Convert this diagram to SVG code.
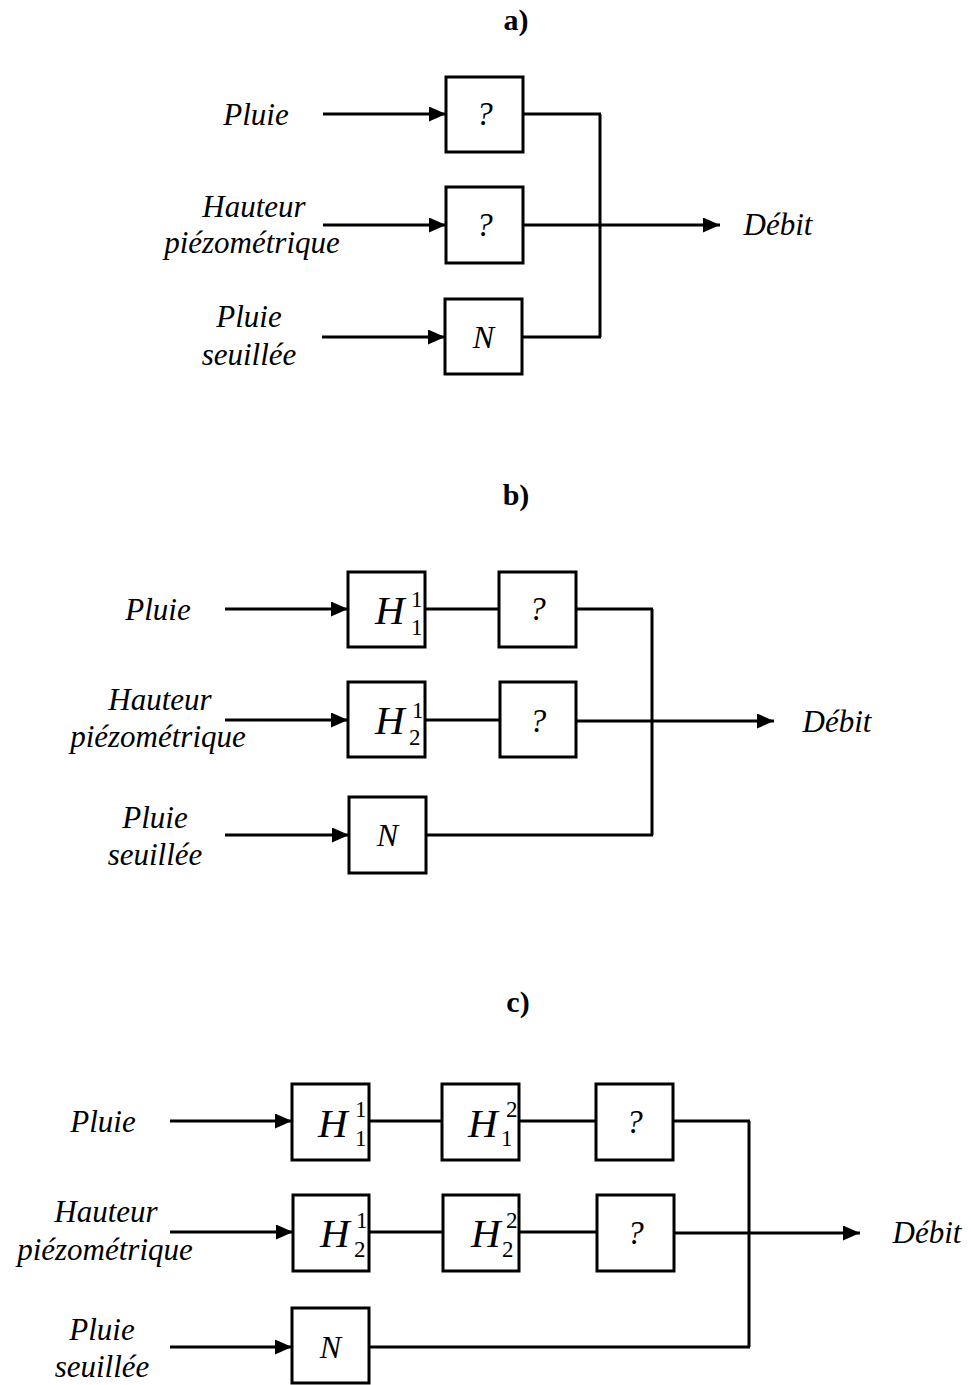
<svg xmlns="http://www.w3.org/2000/svg" width="971" height="1385" viewBox="0 0 971 1385">
<style>
text{font-family:"Liberation Serif","Times New Roman",serif;fill:#000}
.lbl{font-size:31px;font-style:italic;text-anchor:middle}
.ttl{font-size:30px;font-weight:bold;text-anchor:middle}
.q{font-size:33px;font-style:italic;text-anchor:middle}
.n{font-size:32px;font-style:italic;text-anchor:middle}
.h{font-size:41px;font-style:italic}
.d{font-size:23px}
rect{fill:#fff;stroke:#000;stroke-width:3}
.c line{stroke:#000;stroke-width:3;fill:none}
.c .ar{marker-end:url(#ah)}
</style>
<defs>
<marker id="ah" markerUnits="userSpaceOnUse" markerWidth="17" markerHeight="15" refX="17" refY="7.5" orient="auto">
<path d="M0,0 L17,7.5 L0,15 z" fill="#000"/>
</marker>
</defs>
<rect x="0" y="0" width="971" height="1385" style="fill:#fff;stroke:none"/>

<!-- Titles -->
<text id="title-a" class="ttl" x="516" y="30">a)</text>
<text id="title-b" class="ttl" x="516" y="505">b)</text>
<text id="title-c" class="ttl" x="518" y="1012">c)</text>

<!-- Connectors -->
<g id="connectors" class="c">
<!-- a -->
<line class="ar" x1="323" y1="114" x2="446" y2="114"/>
<line class="ar" x1="323" y1="225" x2="446" y2="225"/>
<line class="ar" x1="322" y1="337" x2="445" y2="337"/>
<line x1="523" y1="114" x2="601" y2="114"/>
<line x1="600" y1="114" x2="600" y2="337"/>
<line x1="522" y1="337" x2="601" y2="337"/>
<line class="ar" x1="523" y1="225" x2="720" y2="225"/>
<!-- b -->
<line class="ar" x1="225" y1="609" x2="348" y2="609"/>
<line class="ar" x1="225" y1="720" x2="348" y2="720"/>
<line class="ar" x1="225" y1="835" x2="349" y2="835"/>
<line x1="425" y1="609" x2="499" y2="609"/>
<line x1="576" y1="609" x2="653" y2="609"/>
<line x1="425" y1="720" x2="500" y2="720"/>
<line class="ar" x1="577" y1="721" x2="774" y2="721"/>
<line x1="426" y1="835" x2="653" y2="835"/>
<line x1="652" y1="609" x2="652" y2="835"/>
<!-- c -->
<line class="ar" x1="170" y1="1121" x2="292" y2="1121"/>
<line class="ar" x1="170" y1="1232" x2="293" y2="1232"/>
<line class="ar" x1="170" y1="1347" x2="292" y2="1347"/>
<line x1="369" y1="1121" x2="442" y2="1121"/>
<line x1="519" y1="1121" x2="596" y2="1121"/>
<line x1="673" y1="1121" x2="750" y2="1121"/>
<line x1="370" y1="1232" x2="443" y2="1232"/>
<line x1="520" y1="1232" x2="597" y2="1232"/>
<line class="ar" x1="674" y1="1233" x2="860" y2="1233"/>
<line x1="369" y1="1347" x2="750" y2="1347"/>
<line x1="749" y1="1121" x2="749" y2="1347"/>
</g>

<!-- Section a nodes -->
<g id="a-in-pluie"><text class="lbl" x="256" y="125">Pluie</text></g>
<g id="a-in-hauteur"><text class="lbl" x="254" y="217">Hauteur</text><text class="lbl" x="252" y="253">piézométrique</text></g>
<g id="a-in-seuil"><text class="lbl" x="249" y="327">Pluie</text><text class="lbl" x="249" y="365">seuillée</text></g>
<g id="a-box1"><rect x="446" y="77" width="77" height="75"/><text class="q" x="484.5" y="125">?</text></g>
<g id="a-box2"><rect x="446" y="187" width="77" height="76"/><text class="q" x="484.5" y="236">?</text></g>
<g id="a-box3"><rect x="445" y="299" width="77" height="75"/><text class="n" x="483.5" y="348">N</text></g>
<g id="a-out"><text class="lbl" x="778" y="235">Débit</text></g>

<!-- Section b nodes -->
<g id="b-in-pluie"><text class="lbl" x="158" y="620">Pluie</text></g>
<g id="b-in-hauteur"><text class="lbl" x="160" y="710">Hauteur</text><text class="lbl" x="158" y="747">piézométrique</text></g>
<g id="b-in-seuil"><text class="lbl" x="155" y="828">Pluie</text><text class="lbl" x="155" y="865">seuillée</text></g>
<g id="b-h11"><rect x="348" y="572" width="77" height="75"/><text class="h" x="375" y="624">H</text><text class="d" x="411" y="607">1</text><text class="d" x="411" y="635">1</text></g>
<g id="b-q1"><rect x="499" y="572" width="77" height="75"/><text class="q" x="537.5" y="620">?</text></g>
<g id="b-h21"><rect x="348" y="682" width="77" height="75"/><text class="h" x="375" y="734">H</text><text class="d" x="412" y="718">1</text><text class="d" x="409" y="745">2</text></g>
<g id="b-q2"><rect x="500" y="682" width="76" height="75"/><text class="q" x="538" y="732">?</text></g>
<g id="b-n"><rect x="349" y="797" width="77" height="76"/><text class="n" x="387.5" y="846">N</text></g>
<g id="b-out"><text class="lbl" x="837" y="732">Débit</text></g>

<!-- Section c nodes -->
<g id="c-in-pluie"><text class="lbl" x="103" y="1132">Pluie</text></g>
<g id="c-in-hauteur"><text class="lbl" x="106" y="1222">Hauteur</text><text class="lbl" x="105" y="1260">piézométrique</text></g>
<g id="c-in-seuil"><text class="lbl" x="102" y="1340">Pluie</text><text class="lbl" x="102" y="1377">seuillée</text></g>
<g id="c-h11"><rect x="292" y="1084" width="77" height="76"/><text class="h" x="318" y="1137">H</text><text class="d" x="355" y="1117">1</text><text class="d" x="355" y="1146">1</text></g>
<g id="c-h12"><rect x="442" y="1084" width="77" height="76"/><text class="h" x="468" y="1137">H</text><text class="d" x="506" y="1117">2</text><text class="d" x="501" y="1146">1</text></g>
<g id="c-q1"><rect x="596" y="1084" width="77" height="76"/><text class="q" x="634.5" y="1133">?</text></g>
<g id="c-h21"><rect x="293" y="1195" width="76" height="76"/><text class="h" x="320" y="1247">H</text><text class="d" x="356" y="1228">1</text><text class="d" x="354" y="1257">2</text></g>
<g id="c-h22"><rect x="443" y="1195" width="76" height="76"/><text class="h" x="471" y="1247">H</text><text class="d" x="506" y="1228">2</text><text class="d" x="502" y="1257">2</text></g>
<g id="c-q2"><rect x="597" y="1195" width="77" height="76"/><text class="q" x="635.5" y="1244">?</text></g>
<g id="c-n"><rect x="292" y="1308" width="77" height="75"/><text class="n" x="330.5" y="1358">N</text></g>
<g id="c-out"><text class="lbl" x="927" y="1243">Débit</text></g>
</svg>
